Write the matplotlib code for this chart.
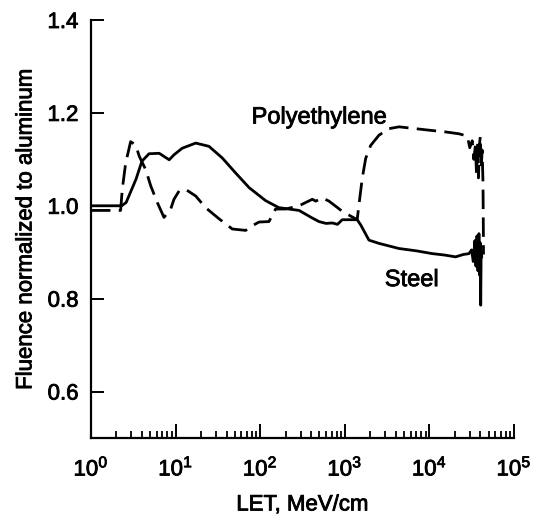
import numpy as np
import matplotlib
matplotlib.use("Agg")
import matplotlib.pyplot as plt
import matplotlib.patheffects as pe

plt.rcParams['font.family'] = ['Liberation Sans', 'DejaVu Sans']
plt.rcParams['mathtext.default'] = 'regular'

# LET (MeV/cm) and fluence ratio to aluminum, steel shield
steel_let = [1.0, 2.3, 2.6, 3.4, 4.0, 4.85, 6.4, 8.4, 9.6, 12.0, 17.3, 24.8, 35.6,
             51.0, 74.0, 116.0, 166.0, 288.0, 400.0, 495.0, 600.0, 712.0, 820.0,
             933.0, 1400.0, 1540.0, 1930.0, 2540.0, 4370.0, 7000.0, 10800.0, 15000.0,
             20400.0, 25000.0, 29400.0, 31500.0, 33000.0, 34500.0, 35500.0, 36500.0,
             37500.0, 38500.0, 39500.0, 40000.0, 40400.0, 40900.0, 41500.0]
steel_ratio = [1.0, 1.0, 1.007, 1.057, 1.096, 1.112, 1.113, 1.099, 1.11, 1.124, 1.135,
               1.128, 1.103, 1.071, 1.039, 1.011, 0.996, 0.99, 0.975, 0.966, 0.962,
               0.963, 0.96, 0.97, 0.97, 0.959, 0.926, 0.919, 0.908, 0.903, 0.897,
               0.894, 0.89, 0.895, 0.897, 0.905, 0.88, 0.925, 0.87, 0.935, 0.86, 0.94,
               0.85, 0.92, 0.786, 0.9, 0.89]

# polyethylene shield
poly_let = [1.0, 2.24, 2.34, 2.57, 2.94, 3.37, 3.73, 4.43, 5.08, 6.08, 7.29, 8.75,
            9.57, 11.0, 13.2, 17.3, 22.6, 32.6, 46.8, 67.4, 80.7, 96.8, 127.0, 152.0,
            200.0, 288.0, 413.0, 453.0, 542.0, 650.0, 780.0, 933.0, 1400.0, 1472.0,
            1610.0, 1766.0, 2024.0, 2535.0, 3330.0, 4370.0, 6870.0, 10800.0, 15500.0,
            22400.0, 28100.0, 30000.0, 32100.0, 33500.0, 35000.0, 36000.0, 37000.0,
            38000.0, 39000.0, 40000.0, 41000.0, 42000.0, 43000.0, 43400.0, 43600.0]
poly_ratio = [0.99, 0.99, 1.035, 1.092, 1.138, 1.131, 1.106, 1.078, 1.043, 1.007,
              0.975, 0.993, 1.014, 1.032, 1.035, 1.021, 0.996, 0.972, 0.95, 0.947,
              0.957, 0.965, 0.966, 0.993, 0.993, 1.0, 1.014, 1.01, 1.017, 1.01, 0.999,
              0.988, 0.97, 1.003, 1.06, 1.102, 1.13, 1.152, 1.166, 1.17, 1.166, 1.162,
              1.159, 1.155, 1.15, 1.125, 1.14, 1.10, 1.13, 1.07, 1.14, 1.06, 1.13,
              1.15, 1.08, 1.12, 1.05, 0.95, 0.895]

y_ticks = [0.6, 0.8, 1.0, 1.2, 1.4]
y_tick_labels = ['0.6', '0.8', '1.0', '1.2', '1.4']
x_ticks = [1e0, 1e1, 1e2, 1e3, 1e4, 1e5]
x_tick_labels = ['10$^{0}$', '10$^{1}$', '10$^{2}$', '10$^{3}$', '10$^{4}$', '10$^{5}$']

# slightly heavier strokes on the lettering
heavy = [pe.withStroke(linewidth=0.6, foreground='black')]

fig = plt.figure(figsize=(5.41, 5.22), dpi=100)
ax = fig.add_axes([91 / 541, 1 - 438 / 522, 423 / 541, 418 / 522])

ax.plot(steel_let, steel_ratio, color='black', lw=2.0, solid_joinstyle='round')
ax.plot(poly_let, poly_ratio, color='black', lw=2.0, dashes=(7, 3))

ax.set_xscale('log')
ax.set_xlim(1, 1e5)
ax.set_ylim(0.5, 1.4)

ax.spines['top'].set_visible(False)
ax.spines['right'].set_visible(False)
ax.spines['left'].set_linewidth(1.6)
ax.spines['bottom'].set_linewidth(1.6)

ax.set_yticks(y_ticks)
ax.set_yticklabels(y_tick_labels)
ax.set_xticks(x_ticks)
ax.set_xticklabels(x_tick_labels)
ax.xaxis.set_minor_locator(matplotlib.ticker.LogLocator(base=10, subs=np.arange(2, 10)))
ax.xaxis.set_minor_formatter(matplotlib.ticker.NullFormatter())

ax.tick_params(axis='y', direction='in', length=9, width=1.4, labelsize=16, pad=9)
ax.tick_params(axis='x', which='major', direction='in', length=10, width=1.4,
               labelsize=16, pad=12)
ax.tick_params(axis='x', which='minor', direction='in', length=5, width=1.3)

ax.set_xlabel('LET, MeV/cm', fontsize=16, labelpad=10, path_effects=heavy)
ax.set_ylabel('Fluence normalized to aluminum', fontsize=16, labelpad=8,
              path_effects=heavy)
for lbl in ax.get_xticklabels() + ax.get_yticklabels():
    lbl.set_path_effects(heavy)

ax.text(500, 1.19, 'Polyethylene', fontsize=17, ha='center', va='center',
        path_effects=heavy)
ax.text(6200, 0.84, 'Steel', fontsize=17, ha='center', va='center',
        path_effects=heavy)

plt.savefig('out.png', dpi=100)
